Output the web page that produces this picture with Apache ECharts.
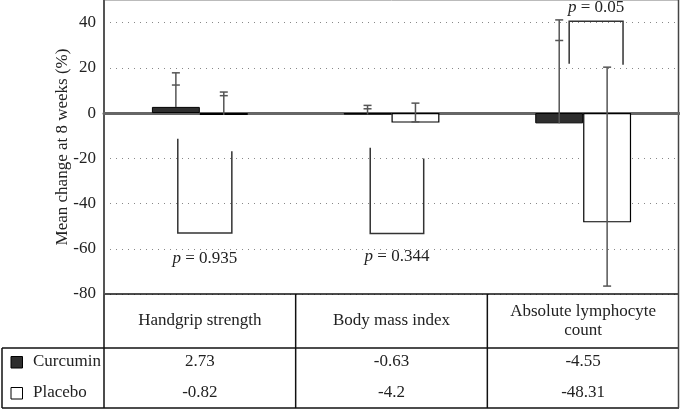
<!DOCTYPE html>
<html><head><meta charset="utf-8">
<script src="https://cdn.jsdelivr.net/npm/echarts@6/dist/echarts.min.js"></script>
<style>html,body{margin:0;padding:0;background:#fff}#c{width:680px;height:409px}</style>
</head><body><div id="c"></div>
<script>
const categories = ['Handgrip strength', 'Body mass index', 'Absolute lymphocyte\ncount'];
const seriesNames = ['Curcumin', 'Placebo'];
const curcumin = [2.73, -0.63, -4.55];
const placebo = [-0.82, -4.2, -48.31];
// error bars (line from low to high, caps at high and at tick)
const curcuminErrLow = [2.73, -0.63, -4.55];
const curcuminErrHigh = [17.8, 3.4, 41.2];
const curcuminErrTick = [12.4, 1.9, 32.1];
const placeboErrLow = [-0.82, -3.9, -76.5];
const placeboErrHigh = [9.3, 4.4, 20.3];
const placeboErrTick = [7.7, -3.9, -76.5];
// significance brackets
const bracketCat = [0, 1, 2];
const bracketLeftX = [-0.115, -0.111, -0.073];
const bracketRightX = [0.167, 0.168, 0.208];
const bracketLeftEnd = [-11.3, -15.3, 21.8];
const bracketRightEnd = [-16.9, -20.1, 21.4];
const bracketJoin = [-53.0, -53.3, 40.6];
const pValues = ['0.935', '0.344', '0.05'];
const pLabelY = [-64.3, -63.6, 46.5];
const tableRows = [curcumin, placebo];
const tableLabels = ['2.73', '-0.63', '-4.55', '-0.82', '-4.2', '-48.31'];

const FONT = 'Liberation Serif';
const FS = 17;
const chart = echarts.init(document.getElementById('c'), null, {renderer: 'canvas'});

function errData(low, high, tick) {
  return low.map((v, i) => [i, v, high[i], tick[i]]);
}
function errRender(sign) {
  return function (params, api) {
    const bw = api.size([1, 0])[0];
    const c = api.coord([api.value(0), 0]);
    const x = c[0] + sign * bw * 0.125;
    const yl = api.coord([api.value(0), api.value(1)])[1];
    const yh = api.coord([api.value(0), api.value(2)])[1];
    const yt = api.coord([api.value(0), api.value(3)])[1];
    const st = {stroke: '#555', lineWidth: 1.5};
    return {type: 'group', children: [
      {type: 'line', shape: {x1: x, y1: yl, x2: x, y2: yh}, style: st},
      {type: 'line', shape: {x1: x - 4, y1: yh, x2: x + 4, y2: yh}, style: st},
      {type: 'line', shape: {x1: x - 4, y1: yt, x2: x + 4, y2: yt}, style: st}
    ]};
  };
}
const bracketData = bracketCat.map((c, i) => [c, bracketLeftEnd[i], bracketRightEnd[i], bracketJoin[i], pLabelY[i], bracketLeftX[i], bracketRightX[i]]);

const option = {
  animation: false,
  grid: {left: 104, right: 1, top: 0, bottom: 115},
  xAxis: {
    type: 'category', data: categories,
    axisLine: {onZero: true, lineStyle: {color: '#666', width: 3}},
    axisTick: {show: false}, axisLabel: {show: false}, splitLine: {show: false}
  },
  yAxis: {
    type: 'value', min: -80, max: 50, interval: 20,
    name: 'Mean change at 8 weeks (%)', nameLocation: 'middle', nameGap: 33, nameRotate: 90,
    nameMoveOverlap: false,
    nameTextStyle: {fontFamily: FONT, fontSize: FS, color: '#222'},
    axisLine: {show: true, lineStyle: {color: '#555', width: 2}},
    axisTick: {show: false},
    axisLabel: {showMaxLabel: false, fontFamily: FONT, fontSize: FS, color: '#222', margin: 8},
    splitLine: {show: true, lineStyle: {color: '#888', type: [1, 5], width: 1}}
  },
  series: [
    {name: seriesNames[0], type: 'bar', data: curcumin, barGap: 0, barCategoryGap: '50%',
     itemStyle: {color: '#2e2e2e', borderColor: '#000', borderWidth: 1}},
    {name: seriesNames[1], type: 'bar', data: placebo, barGap: 0, barCategoryGap: '50%',
     itemStyle: {color: '#fff', borderColor: '#000', borderWidth: 1.2}},
    {type: 'custom', data: errData(curcuminErrLow, curcuminErrHigh, curcuminErrTick), renderItem: errRender(-1), z: 5, encode: {x: 0, y: [1, 2, 3]}},
    {type: 'custom', data: errData(placeboErrLow, placeboErrHigh, placeboErrTick), renderItem: errRender(1), z: 5, encode: {x: 0, y: [1, 2, 3]}},
    {type: 'custom', data: bracketData, z: 6, encode: {x: 0, y: [1, 2, 3, 4]},
     renderItem: function (params, api) {
       const bw = api.size([1, 0])[0];
       const idx = api.value(0);
       const cx = api.coord([idx, 0])[0];
       const xl = cx + api.value(5) * bw, xr = cx + api.value(6) * bw;
       const yl = api.coord([idx, api.value(1)])[1];
       const yr = api.coord([idx, api.value(2)])[1];
       const yj = api.coord([idx, api.value(3)])[1];
       const yp = api.coord([idx, api.value(4)])[1];
       const st = {stroke: '#333', lineWidth: 1.5, fill: null};
       return {type: 'group', children: [
         {type: 'polyline', shape: {points: [[xl, yl], [xl, yj], [xr, yj], [xr, yr]]}, style: st},
         {type: 'text', x: (xl + xr) / 2, y: yp, style: {
           text: '{i|p} = ' + pValues[params.dataIndex], align: 'center', verticalAlign: 'middle',
           fontFamily: FONT, fontSize: FS, fill: '#222',
           rich: {i: {fontStyle: 'italic', fontFamily: FONT, fontSize: FS, fill: '#222'}}}}
       ]};
     }}
  ]
};
chart.setOption(option);

// table under the plot
const yBottom = chart.convertToPixel({yAxisIndex: 0}, -80);
const yTop = chart.convertToPixel({yAxisIndex: 0}, 50);
const centers = categories.map((c, i) => chart.convertToPixel({xAxisIndex: 0}, i));
const band = centers[1] - centers[0];
const xs = [centers[0] - band / 2, centers[0] + band / 2, centers[1] + band / 2, centers[2] + band / 2];
const headBottom = 348, tableBottom = 408, tableLeft = 2;
const lineSt = {stroke: '#111', lineWidth: 1.5};
const g = [];
g.push({type: 'line', shape: {x1: xs[0], y1: yTop + 0.5, x2: xs[3], y2: yTop + 0.5}, style: {stroke: '#bbb', lineWidth: 1}});
g.push({type: 'line', shape: {x1: xs[0], y1: yBottom, x2: xs[3], y2: yBottom}, style: lineSt});
g.push({type: 'line', shape: {x1: tableLeft, y1: headBottom, x2: xs[3], y2: headBottom}, style: lineSt});
g.push({type: 'line', shape: {x1: tableLeft, y1: tableBottom, x2: xs[3], y2: tableBottom}, style: lineSt});
g.push({type: 'line', shape: {x1: tableLeft, y1: headBottom, x2: tableLeft, y2: tableBottom}, style: lineSt});
g.push({type: 'line', shape: {x1: xs[0], y1: yBottom, x2: xs[0], y2: tableBottom}, style: lineSt});
g.push({type: 'line', shape: {x1: xs[1], y1: yBottom, x2: xs[1], y2: tableBottom}, style: lineSt});
g.push({type: 'line', shape: {x1: xs[2], y1: yBottom, x2: xs[2], y2: tableBottom}, style: lineSt});
g.push({type: 'line', shape: {x1: xs[3] - 0.5, y1: yTop, x2: xs[3] - 0.5, y2: tableBottom}, style: {stroke: '#444', lineWidth: 1.5}});
categories.forEach((c, i) => {
  g.push({type: 'text', x: centers[i], y: (yBottom + headBottom) / 2, style: {text: c, align: 'center', verticalAlign: 'middle', fontFamily: FONT, fontSize: FS, lineHeight: 19, fill: '#222'}});
});
const rowY = [362, 393];
seriesNames.forEach((s, r) => {
  g.push({type: 'rect', shape: {x: 11, y: rowY[r] - 5.5, width: 11.5, height: 11.5}, style: {fill: r === 0 ? '#2e2e2e' : '#fff', stroke: '#000', lineWidth: 1}});
  g.push({type: 'text', x: 33, y: rowY[r], style: {text: s, align: 'left', verticalAlign: 'middle', fontFamily: FONT, fontSize: FS, fill: '#222'}});
  tableRows[r].forEach((v, i) => {
    g.push({type: 'text', x: centers[i], y: rowY[r], style: {text: tableLabels[r * 3 + i], align: 'center', verticalAlign: 'middle', fontFamily: FONT, fontSize: FS, fill: '#222'}});
  });
});
chart.setOption({graphic: g});
</script></body></html>
